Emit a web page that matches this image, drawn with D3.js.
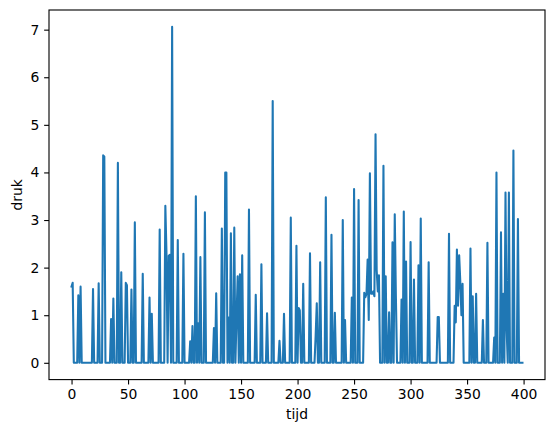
<!DOCTYPE html>
<html>
<head>
<meta charset="utf-8">
<script src="https://cdn.jsdelivr.net/npm/d3@7"></script>
<style>
  body { margin: 0; background: #fff; }
  text { font-family: "DejaVu Sans", sans-serif; fill: #000; }
</style>
</head>
<body>
<div id="chart"></div>
<script>
"use strict";

// druk per tijdstap
var druk = [
  1.6,1.68,0,0,0,0,1.42,0,1.6,0,0,0,0,0,0,0,0,0,0,1.55,
  0,0,0,0,1.67,0,0,0,4.36,4.33,0,0,0,0,0,0.92,0,1.35,0,0,
  0,4.2,0,0,1.9,0,0,0,1.68,1.63,0,0,0,1.54,0,0,2.95,0,0,0,
  0,0,0,1.87,0,0,0,0,0,1.37,0,1.03,0,0,0,0,0,0,2.8,0,
  0,0,0,3.3,2.3,0,2.25,2.27,0,7.06,0,0,0,0,2.58,0,0,0,0,2.29,
  0,0,0,0,0,0.45,0,0.77,0,0,3.5,0,0.83,0,2.22,0,0,0,3.16,0,
  0,0,0,0,0,0,0.73,0,1.46,0,0,0,0,2.82,0,0,4.0,4.0,0,0.95,
  0,2.72,0,0,2.84,0,0.95,1.82,0,1.86,0,2.26,0,0,0,0,0,3.22,0,0,
  0,0,0,1.43,0,0,0,0,2.07,0,0,0,0,1.04,0,0,0,0,5.5,0,
  0,0,0,0,0.46,0,0,0,1.03,0,0,0,0,0,3.05,0,0,0,0,2.46,
  0,1.15,1.1,0,0,1.66,0,0,0,0,0,2.3,0,0,0,0,0.57,1.25,0,0,
  2.11,0,0,0,0,3.48,0,0,0,0,2.69,0,0,1.05,0,0,0,0,0,0,
  3.0,0,0.9,0,0,0,0,0,1.37,0,3.65,0,0,0,3.42,0,0,0,0,1.47,
  1.38,1.45,2.17,0.9,3.98,1.45,1.45,1.5,1.4,4.8,1.95,1.5,1.84,0,0,0,4.14,0,1.82,0,
  0,1.06,0,0,2.53,0,3.12,1.4,0,0,0,0,1.33,0,3.18,0,2.13,0,0,0,
  2.54,0,0,1.75,0,0,0,2.05,0,3.03,0,0,0,0,0,0,2.11,0,0,0,
  0,0,0,0,0.96,0.96,0,0,0,0,0,0,0,0,2.71,0,0,0,0,1.2,
  0.85,2.38,1.2,2.26,1.7,1.0,1.66,0,0,0,0,0,0,2.4,0,1.4,0,0,1.45,0,
  0,0,0,0,0.9,0,0,0,2.52,0,0,0,0,0,0.53,0,4.0,0,0,0,
  2.74,0,1.45,0,3.58,0.7,0,3.58,0,0,0,4.46,0,0,0,3.02,0,0,0,0
];
var tijd = druk.map(function(d, i) { return i; });
var xTicks = [0, 50, 100, 150, 200, 250, 300, 350, 400];
var yTicks = [0, 1, 2, 3, 4, 5, 6, 7];

var W = 554, H = 432;
var margin = {left: 49, top: 10, width: 496, height: 369.6};
var fs = 13.9, tickLen = 4.86, tickPad = 4.86;

var svg = d3.select("#chart").append("svg")
    .attr("width", W)
    .attr("height", H);

// 5% marge zoals matplotlib
var xExt = d3.extent(tijd), yExt = d3.extent(druk);
var xPad = (xExt[1] - xExt[0]) * 0.05, yPad = (yExt[1] - yExt[0]) * 0.05;

var x = d3.scaleLinear()
    .domain([xExt[0] - xPad, xExt[1] + xPad])
    .range([margin.left, margin.left + margin.width]);
var y = d3.scaleLinear()
    .domain([yExt[0] - yPad, yExt[1] + yPad])
    .range([margin.top + margin.height, margin.top]);

var bottom = margin.top + margin.height;

var line = d3.line()
    .x(function(d, i) { return x(tijd[i]); })
    .y(function(d) { return y(d); });

svg.append("path")
    .datum(druk)
    .attr("fill", "none")
    .attr("stroke", "#1f77b4")
    .attr("stroke-width", 2.08)
    .attr("stroke-linejoin", "round")
    .attr("stroke-linecap", "square")
    .attr("d", line);

var xAxis = svg.append("g")
    .attr("transform", "translate(0," + bottom + ")")
    .call(d3.axisBottom(x).tickValues(xTicks).tickSize(tickLen).tickPadding(tickPad));
var yAxis = svg.append("g")
    .attr("transform", "translate(" + margin.left + ",0)")
    .call(d3.axisLeft(y).tickValues(yTicks).tickSize(tickLen).tickPadding(tickPad));

[xAxis, yAxis].forEach(function(g) {
    g.select(".domain").remove();
    g.selectAll(".tick line").attr("stroke", "#000").attr("stroke-width", 1.11);
    g.selectAll(".tick text")
        .style("font-family", "DejaVu Sans")
        .style("font-size", fs + "px")
        .attr("fill", "#000");
});
xAxis.attr("font-family", null).attr("font-size", null);
yAxis.attr("font-family", null).attr("font-size", null);

svg.append("rect")
    .attr("x", margin.left)
    .attr("y", margin.top)
    .attr("width", margin.width)
    .attr("height", margin.height)
    .attr("fill", "none")
    .attr("stroke", "#000")
    .attr("stroke-width", 1.11);

svg.append("text")
    .attr("x", margin.left + margin.width / 2)
    .attr("y", 419)
    .attr("text-anchor", "middle")
    .style("font-size", fs + "px")
    .text("tijd");

svg.append("text")
    .attr("transform", "translate(22," + (margin.top + margin.height / 2) + ") rotate(-90)")
    .attr("text-anchor", "middle")
    .style("font-size", fs + "px")
    .text("druk");
</script>
</body>
</html>
